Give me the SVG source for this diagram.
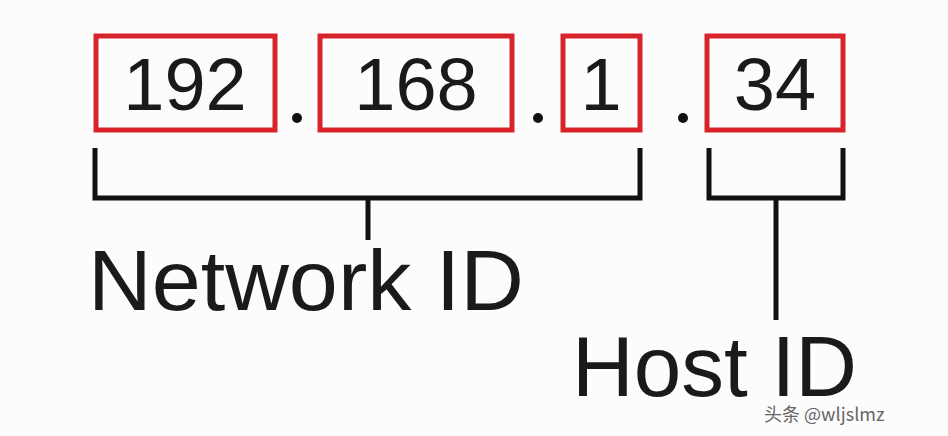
<svg xmlns="http://www.w3.org/2000/svg" width="948" height="436" viewBox="0 0 948 436">
<style>
.box{fill:none;stroke:#d8232a;stroke-width:5}
.num{font-family:"Liberation Sans",Arial,sans-serif;font-size:74px;fill:#1a1a1a;text-anchor:middle}
.lbl{font-family:"Liberation Sans",Arial,sans-serif;font-size:86px;fill:#1a1a1a}
.br{fill:none;stroke:#111;stroke-width:5}
</style>
<rect width="948" height="436" fill="#fcfcfc"/>
<g id="n192"><rect class="box" x="96" y="36" width="179" height="94"/><text class="num" x="185" y="110">192</text></g>
<g id="n168"><rect class="box" x="320" y="36" width="192" height="94"/><text class="num" x="416" y="110">168</text></g>
<g id="n1"><rect class="box" x="563" y="36" width="77" height="94"/><text class="num" x="601" y="110">1</text></g>
<g id="n34"><rect class="box" x="707" y="36" width="136" height="94"/><text class="num" x="775" y="110">34</text></g>
<g id="dots" fill="#111"><circle cx="297" cy="118" r="5"/><circle cx="538" cy="118" r="5"/><circle cx="683" cy="118" r="5"/></g>
<g id="connectors">
<path class="br" d="M95 148V198H640V148M368 198V240"/>
<path class="br" d="M709 148V198H843V148M776 198V320"/>
</g>
<g id="network"><text class="lbl" x="88" y="310" textLength="436" lengthAdjust="spacingAndGlyphs">Network ID</text></g>
<g id="host"><text class="lbl" x="572" y="396" textLength="285" lengthAdjust="spacingAndGlyphs">Host ID</text></g>
<text x="764" y="421" font-family="'Noto Sans CJK SC',sans-serif" font-size="18" fill="#666">头条 @wljslmz</text>
</svg>
